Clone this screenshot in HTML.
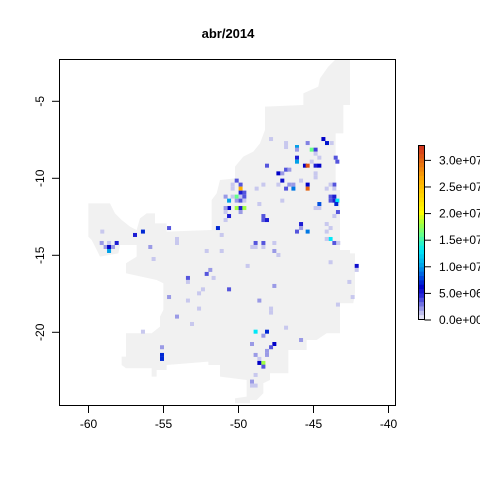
<!DOCTYPE html>
<html><head><meta charset="utf-8"><style>
html,body{margin:0;padding:0;background:#fff;}
svg{display:block;font-family:"Liberation Sans",Arial,sans-serif;}
</style></head><body>
<svg id="chart" width="480" height="480" viewBox="0 0 480 480" xmlns="http://www.w3.org/2000/svg">
<text x="228" y="38" text-anchor="middle" font-size="13" font-weight="bold">abr/2014</text>
<g transform="translate(50,50) scale(0.3333)">
<polygon fill="#f1f1f1" points="855,30 900,30 900,165 880,165 880,250 857,250 857,420 870,420 870,600 900,600 900,610 915,610 915,730 910,760 870,760 870,850 830,850 800,870 770,870 770,900 715,900 715,970 660,970 660,990 640,1000 640,1030 620,1050 600,1050 600,1060 555,1060 555,1045 590,1040 590,990 510,980 510,945 475,945 475,935 350,945 350,960 320,960 320,980 305,980 305,955 228,955 215,945 215,920 228,920 228,850 305,850 330,830 330,800 340,780 340,700 320,690 228,670 228,640 260,620 260,585 210,585 205,610 150,620 138,595 125,570 115,560 115,460 180,460 195,490 215,510 240,530 260,540 270,505 290,490 315,490 315,520 350,520 350,545 485,540 485,450 500,430 510,390 555,385 555,350 580,320 610,305 630,280 645,240 645,170 760,165 760,130 805,110 810,85 835,50"/>
</g>
<g id="cells"></g>
<rect x="59.5" y="59.5" width="336" height="346" fill="none" stroke="#000" stroke-width="1"/>
<g id="axes"></g>
<g id="legend"></g>
</svg>
<script>
const xTicks = [-60, -55, -50, -45, -40];
const yTicks = [-5, -10, -15, -20];
const legendTicks = [0, 5e6, 1e7, 1.5e7, 2e7, 2.5e7, 3e7];
const legendLabels = ["0.0e+00","5.0e+06","1.0e+07","1.5e+07","2.0e+07","2.5e+07","3.0e+07"];
const cellLons = [-44.34,-44.1,-43.79,-47.83,-46.83,-46.83,-45.39,-46.1,-46.1,-45.12,-44.86,-44.86,-46.1,-46.1,-44.61,-43.52,-43.41,-45.12,-45.57,-45.39,-44.86,-44.61,-48.1,-46.83,-46.61,-47.34,-47.08,-44.86,-44.86,-47.08,-45.83,-45.39,-45.39,-46.61,-46.34,-46.83,-46.34,-48.34,-47.34,-48.79,-50.12,-49.86,-50.39,-50.39,-49.86,-49.86,-49.61,-50.86,-50.39,-50.12,-49.86,-49.61,-50.63,-50.12,-49.86,-49.61,-50.63,-50.12,-49.86,-49.61,-50.86,-50.86,-49.86,-50.63,-50.86,-48.34,-48.34,-48.1,-47.08,-48.61,-44.61,-44.61,-44.86,-43.86,-43.61,-43.61,-43.86,-43.41,-43.48,-43.61,-43.86,-44.12,-43.61,-43.61,-43.37,-45.83,-45.83,-46.1,-45.39,-44.12,-44.12,-43.86,-43.86,-44.12,-43.61,-43.35,-43.86,-42.12,-42.12,-54.63,-51.37,-51.12,-54.1,-54.1,-55.88,-55.66,-52.12,-51.12,-48.86,-48.34,-49.08,-48.86,-48.34,-47.61,-47.61,-47.34,-49.39,-51.88,-52.12,-53.37,-53.37,-51.66,-52.37,-52.63,-50.63,-47.61,-54.63,-53.37,-48.61,-42.39,-42.61,-43.37,-52.63,-47.83,-47.83,-54.1,-53.1,-46.83,-56.37,-48.86,-48.1,-48.34,-49.1,-47.61,-47.83,-48.1,-45.83,-55.1,-55.1,-55.1,-48.86,-48.61,-48.1,-48.61,-48.34,-48.34,-48.86,-49.1,-49.1,-48.86,-59.08,-56.9,-56.37,-59.12,-58.86,-58.63,-58.37,-58.63,-58.12,-58.63];
const cellLats = [-7.45,-7.71,-7.71,-7.45,-7.71,-7.97,-7.71,-7.97,-8.14,-8.14,-8.14,-8.4,-8.66,-8.92,-8.66,-8.66,-8.92,-8.92,-9.18,-9.18,-9.18,-9.18,-9.18,-9.44,-9.44,-9.68,-9.68,-9.68,-9.94,-10.15,-10.15,-10.41,-10.67,-10.41,-10.41,-10.67,-10.67,-10.41,-10.41,-10.67,-10.15,-10.41,-10.41,-10.67,-10.67,-10.93,-10.93,-11.19,-11.19,-11.19,-11.19,-11.19,-11.45,-11.45,-11.45,-11.45,-11.93,-11.93,-11.93,-11.93,-11.93,-12.19,-12.19,-12.45,-12.71,-12.45,-12.71,-12.71,-11.45,-11.67,-11.67,-11.93,-11.93,-11.19,-11.19,-11.45,-11.45,-11.45,-11.67,-10.41,-10.41,-10.67,-10.67,-12.45,-12.19,-12.97,-13.23,-13.46,-13.46,-13.46,-12.97,-13.23,-13.94,-13.94,-14.2,-14.2,-15.45,-15.69,-15.95,-13.23,-13.23,-13.68,-13.94,-14.2,-14.46,-15.24,-14.72,-14.72,-14.2,-14.2,-14.46,-14.46,-14.46,-14.2,-14.72,-14.98,-15.69,-15.95,-16.21,-16.47,-16.73,-16.47,-17.21,-17.47,-17.21,-16.99,-17.71,-17.94,-17.94,-17.71,-16.73,-18.2,-18.46,-18.46,-18.72,-18.98,-19.46,-19.7,-19.96,-19.96,-19.96,-20.22,-20.76,-20.76,-20.97,-21.21,-20.5,-20.97,-21.47,-21.73,-21.47,-21.73,-21.47,-21.99,-21.99,-22.23,-22.77,-23.2,-23.46,-23.46,-13.46,-13.68,-13.46,-14.2,-14.46,-14.46,-14.46,-14.2,-14.2,-14.72];
const cellVals = [6e6,6.5e6,1e6,1e6,1e6,1e6,2.5e6,1e7,2e6,1.6e7,4e6,1e6,5e6,1e7,1e6,3.5e6,3.5e6,1e6,6e6,3.1e7,5e6,6e6,3.5e6,3.5e6,2e6,6e6,2e6,1e6,1e6,5.5e6,1e6,6e6,3e7,2e6,2e6,3.5e6,9e6,1e6,1e6,1e6,3.5e6,3.5e6,1e6,1e6,2.6e7,5e6,3.5e6,2e6,1e6,1.6e7,1e6,3.5e6,1e7,2e6,3.5e6,1e6,6e6,1.8e7,5e6,1.8e7,2e6,1e6,2e6,5e6,1e6,3.5e6,3.5e6,5e6,1e6,1e6,8e6,1e6,1e6,3.5e6,5e6,5e6,3.5e6,1.3e7,7e6,3.5e6,1e6,1e6,1e6,1e6,3.5e6,5e6,2e6,3.5e6,9e6,1e6,1e6,1e6,1.3e7,1e6,3.5e6,1e6,1e6,5.5e6,1e6,3.5e6,7e6,1e6,1e6,1e6,2e6,1e6,1e6,1e6,3.5e6,3.5e6,1e6,1e6,1e6,1e6,2e6,1e6,1e6,2e6,3.5e6,3.5e6,1e6,1e6,1e6,1e6,3.5e6,2e6,2e6,1e6,2e6,1e6,1e6,1e6,1e6,1e6,1e6,2e6,1e6,1e6,1e6,1.3e7,7e6,2e6,2e6,6e6,3.5e6,2e6,2e6,2e6,7e6,7e6,2e6,1e6,2e6,6e6,1.8e7,3.5e6,1e6,2e6,1e6,1e6,1e6,5e6,7e6,2e6,2e6,6e6,2e6,1e6,5e6,1e7];

const NS = "http://www.w3.org/2000/svg";
const x = lon => 88.5 + (lon + 60) * 15;
const y = lat => 101.3 + (-5 - lat) * 15.4;
const cellW = 4, cellH = 4;
const stops = [[0,[244,244,252]],[1e6,[200,200,238]],[2e6,[154,154,230]],[3e6,[106,106,224]],[4.5e6,[42,42,216]],[6e6,[0,0,200]],[8e6,[0,80,224]],[1e7,[0,160,232]],[1.3e7,[0,232,248]],[1.6e7,[102,255,136]],[1.8e7,[160,255,64]],[2e7,[255,255,0]],[2.6e7,[255,176,0]],[3.27e7,[208,48,32]]];
function color(v){
  for(let i=1;i<stops.length;i++){
    if(v<=stops[i][0]){
      const a=stops[i-1],b=stops[i],t=(v-a[0])/(b[0]-a[0]);
      const c=a[1].map((q,k)=>Math.round(q+(b[1][k]-q)*t));
      return `rgb(${c[0]},${c[1]},${c[2]})`;
    }
  }
  const c=stops[stops.length-1][1];return `rgb(${c[0]},${c[1]},${c[2]})`;
}
function mk(tag, attrs, parent){const e=document.createElementNS(NS,tag);for(const k in attrs)e.setAttribute(k,attrs[k]);parent.appendChild(e);return e;}

const cells=document.getElementById('cells');
for(let i=0;i<cellVals.length;i++){
  const r=mk('rect',{x:x(cellLons[i])-cellW/2,y:y(cellLats[i])-cellH/2,width:cellW,height:cellH,fill:color(cellVals[i])},cells);
  
  
}

const axes=document.getElementById('axes');
xTicks.forEach(t=>{
  const l=mk('line',{x1:x(t),x2:x(t),y1:406,y2:413,stroke:'#000'},axes);
  
  
  const tx=mk('text',{x:x(t),y:428,'font-size':12,'text-anchor':'middle'},axes);
  tx.textContent=t;
  
  
});
yTicks.forEach(t=>{
  const l=mk('line',{x1:52,x2:59,y1:y(t),y2:y(t),stroke:'#000'},axes);
  
  
  const tx=mk('text',{x:0,y:0,'font-size':12,'text-anchor':'middle',transform:`translate(44,${y(t)}) rotate(-90)`},axes);
  tx.textContent=t;
  
  
});

const lg=document.getElementById('legend');
const lgTop=145, lgBot=319, lgMax=3.27e7, nb=40;
const ly = v => lgBot - v/lgMax*(lgBot-lgTop);
for(let i=0;i<nb;i++){
  const v0=i*lgMax/nb, v1=(i+1)*lgMax/nb;
  const r=mk('rect',{x:418.5,y:ly(v1),width:6,height:ly(v0)-ly(v1)+0.5,fill:color((v0+v1)/2)},lg);
  
  
}
const fr=mk('rect',{x:418.5,y:lgTop+0.5,width:6,height:lgBot-lgTop,fill:'none',stroke:'#000'},lg);


legendTicks.forEach((t,i)=>{
  const l=mk('line',{x1:424.5,x2:431,y1:ly(t)+1,y2:ly(t)+1,stroke:'#000'},lg);
  
  
  const tx=mk('text',{x:439,y:ly(t)+5,'font-size':12},lg);
  tx.textContent=legendLabels[i];
  
  
});
</script>
</body></html>
